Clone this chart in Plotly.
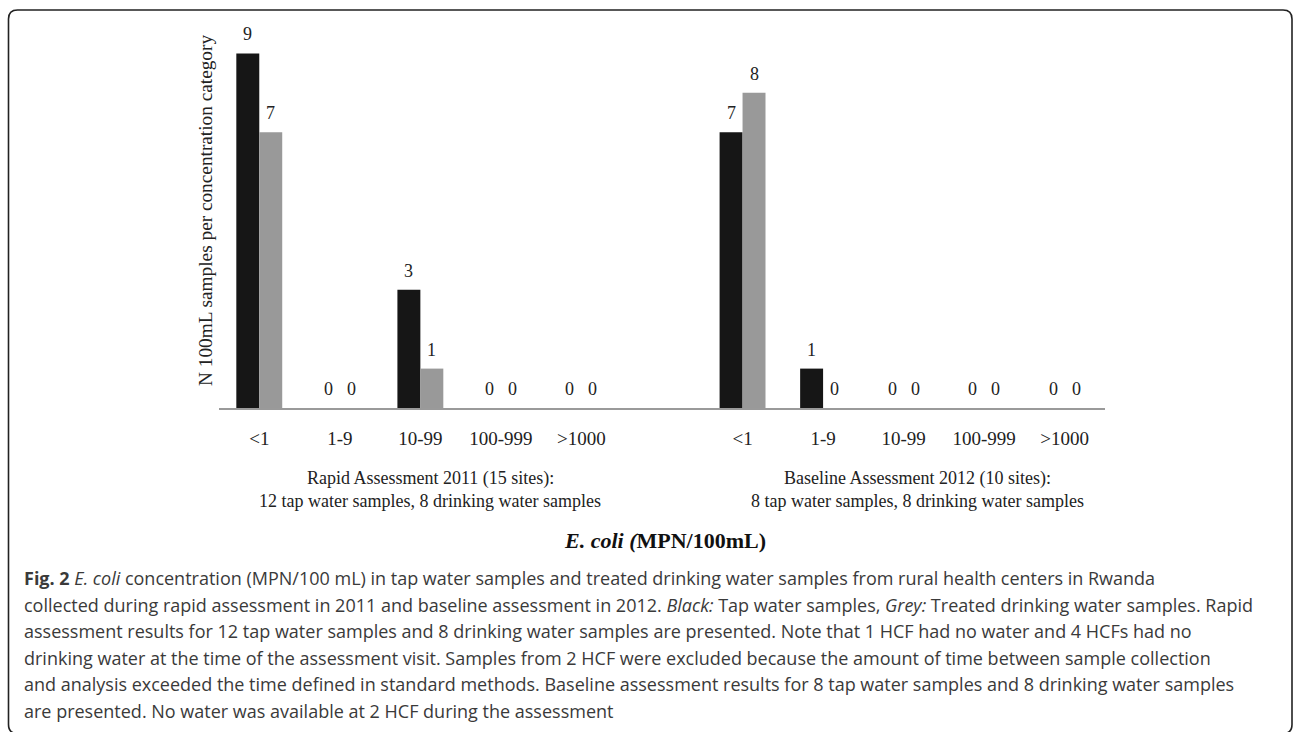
import plotly.graph_objects as go

# ---- data ----
categories = ["<1", "1-9", "10-99", "100-999", ">1000"]
rapid_tap = [9, 0, 3, 0, 0]
rapid_drink = [7, 0, 1, 0, 0]
base_tap = [7, 1, 0, 0, 0]
base_drink = [8, 0, 0, 0, 0]
group_titles = [
    ["Rapid Assessment 2011 (15 sites):", "12 tap water samples, 8 drinking water samples"],
    ["Baseline Assessment 2012 (10 sites):", "8 tap water samples, 8 drinking water samples"],
]
y_title = "N 100mL samples per concentration category"
x_title = "<i>E. coli (</i>MPN/100mL)"
caption_lines = [
    "<b>Fig. 2</b> <i>E. coli</i> concentration (MPN/100 mL) in tap water samples and treated drinking water samples from rural health centers in Rwanda",
    "collected during rapid assessment in 2011 and baseline assessment in 2012. <i>Black:</i> Tap water samples, <i>Grey:</i> Treated drinking water samples. Rapid",
    "assessment results for 12 tap water samples and 8 drinking water samples are presented. Note that 1 HCF had no water and 4 HCFs had no",
    "drinking water at the time of the assessment visit. Samples from 2 HCF were excluded because the amount of time between sample collection",
    "and analysis exceeded the time defined in standard methods. Baseline assessment results for 8 tap water samples and 8 drinking water samples",
    "are presented. No water was available at 2 HCF during the assessment",
]

# positions: two groups of 5 categories separated by one empty slot
n = len(categories)
pos_left = list(range(n))
pos_right = [i + n + 1 for i in range(n)]
positions = pos_left + pos_right
tap = rapid_tap + base_tap
drink = rapid_drink + base_drink
ticktext = categories + categories

W, H = 1293, 732
L, R, T, B = 219, 188, 14, 324
PW, PH = W - L - R, H - T - B
SERIF = "Liberation Serif"
SANS = "Open Sans"
BLACK = "#161616"
GREY = "#999999"
bargap = 0.43

def px(x):
    return (x - L) / PW

def py(y):
    return (H - B - y) / PH

fig = go.Figure()
fig.add_trace(go.Bar(x=positions, y=tap, name="Tap water samples",
                     marker=dict(color=BLACK, line=dict(width=0))))
fig.add_trace(go.Bar(x=positions, y=drink, name="Treated drinking water samples",
                     marker=dict(color=GREY, line=dict(width=0))))

annotations = []
# value labels above bars
bw = (1 - bargap) / 2
for vals, off in ((tap, -bw / 2), (drink, bw / 2)):
    for xp, v in zip(positions, vals):
        annotations.append(dict(x=xp + off, y=v, xref="x", yref="y", text=str(v),
                                showarrow=False, yanchor="bottom", yshift=7,
                                font=dict(family=SERIF, size=18, color="#222")))

# y title
annotations.append(dict(x=px(205), y=py(211), xref="paper", yref="paper", text=y_title,
                        textangle=-90, showarrow=False, xanchor="center", yanchor="middle",
                        font=dict(family=SERIF, size=19.3, color="#222")))
# group titles
for cx, lines in zip((430, 917), group_titles):
    for yy, t in zip((478, 501), lines):
        annotations.append(dict(x=px(cx), y=py(yy), xref="paper", yref="paper", text=t,
                                showarrow=False, xanchor="center", yanchor="middle",
                                font=dict(family=SERIF, size=18, color="#222")))
# x title
annotations.append(dict(x=px(665), y=py(540), xref="paper", yref="paper", text="<b>" + x_title + "</b>",
                        showarrow=False, xanchor="center", yanchor="middle",
                        font=dict(family=SERIF, size=22, color="#111")))
# caption
for i, t in enumerate(caption_lines):
    annotations.append(dict(x=px(22), y=py(578 + i * 26.5), xref="paper", yref="paper", text=t,
                            showarrow=False, xanchor="left", yanchor="middle", align="left",
                            font=dict(family=SANS, size=18, color="#3a3a3a")))

# rounded frame
x0, y0, x1, y1, rr = 8.5, 10, 1292, 733.5, 9
path = (f"M {px(x0)},{py(y0 + rr)} L {px(x0)},{py(y1 - rr)} "
        f"Q {px(x0)},{py(y1)} {px(x0 + rr)},{py(y1)} L {px(x1 - rr)},{py(y1)} "
        f"Q {px(x1)},{py(y1)} {px(x1)},{py(y1 - rr)} L {px(x1)},{py(y0 + rr)} "
        f"Q {px(x1)},{py(y0)} {px(x1 - rr)},{py(y0)} L {px(x0 + rr)},{py(y0)} "
        f"Q {px(x0)},{py(y0)} {px(x0)},{py(y0 + rr)} Z")

fig.update_layout(
    width=W, height=H,
    margin=dict(l=L, r=R, t=T, b=B, pad=0),
    paper_bgcolor="white", plot_bgcolor="white",
    barmode="group", bargap=bargap, bargroupgap=0,
    showlegend=False,
    annotations=annotations,
    shapes=[dict(type="path", path=path, xref="paper", yref="paper",
                 line=dict(color="#222", width=1.6), layer="above")],
    xaxis=dict(range=[-0.5, len(positions) + 0.5], tickmode="array",
               tickvals=positions, ticktext=ticktext, showgrid=False, zeroline=False,
               showline=True, linecolor="#9a9a9a", linewidth=2, ticks="outside",
               ticklen=0, ticklabelstandoff=12,
               tickfont=dict(family=SERIF, size=19, color="#222")),
    yaxis=dict(range=[0, 10], showticklabels=False, showgrid=False, zeroline=False,
               showline=False, ticks=""),
)

fig.write_html("out.html", config={"displayModeBar": False},
               post_script="document.body.style.margin='0';document.body.style.overflow='hidden';")
